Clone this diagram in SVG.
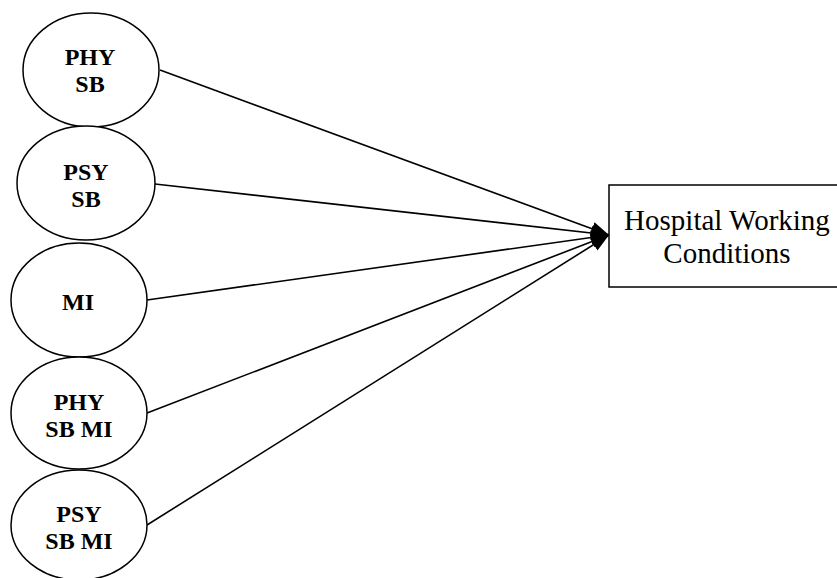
<svg xmlns="http://www.w3.org/2000/svg" width="837" height="578" viewBox="0 0 837 578">
<style>
.node ellipse, .node rect { fill: #fff; stroke: #000; stroke-width: 1.5; }
.lbl { font-family: "Liberation Serif", "Times New Roman", serif; font-weight: bold; font-size: 24px; text-anchor: middle; fill: #000; }
.box { font-family: "Liberation Serif", "Times New Roman", serif; font-size: 29px; text-anchor: middle; fill: #000; }
#connectors line { stroke: #000; stroke-width: 1.6; marker-end: url(#arr); }
</style>
<defs>
<marker id="arr" markerUnits="userSpaceOnUse" markerWidth="20" markerHeight="16" refX="18" refY="8" orient="auto">
<path d="M0,1 L18,8 L0,15 Z" fill="#000"/>
</marker>
</defs>
<rect width="837" height="578" fill="#fff"/>
<g id="connectors">
<line x1="160" y1="70" x2="609" y2="235"/>
<line x1="155" y1="184" x2="609" y2="235"/>
<line x1="147" y1="300" x2="609" y2="235"/>
<line x1="147" y1="413" x2="609" y2="235"/>
<line x1="147" y1="525" x2="609" y2="235"/>
</g>
<g id="n-phy-sb" class="node">
<ellipse cx="91" cy="70" rx="68" ry="57"/>
<text class="lbl" x="90" y="65">PHY</text>
<text class="lbl" x="90" y="92">SB</text>
</g>
<g id="n-psy-sb" class="node">
<ellipse cx="86" cy="183" rx="69" ry="57"/>
<text class="lbl" x="86" y="180">PSY</text>
<text class="lbl" x="86" y="207">SB</text>
</g>
<g id="n-mi" class="node">
<ellipse cx="79" cy="300" rx="68" ry="57"/>
<text class="lbl" x="78" y="310">MI</text>
</g>
<g id="n-phy-sb-mi" class="node">
<ellipse cx="79" cy="413" rx="68" ry="56"/>
<text class="lbl" x="79" y="410">PHY</text>
<text class="lbl" x="79" y="437">SB MI</text>
</g>
<g id="n-psy-sb-mi" class="node">
<ellipse cx="79" cy="525" rx="68" ry="55"/>
<text class="lbl" x="79" y="522">PSY</text>
<text class="lbl" x="79" y="549">SB MI</text>
</g>
<g id="n-hwc" class="node">
<rect x="609" y="185" width="240" height="102"/>
<text class="box" x="727" y="230">Hospital Working</text>
<text class="box" x="727" y="263">Conditions</text>
</g>
</svg>
